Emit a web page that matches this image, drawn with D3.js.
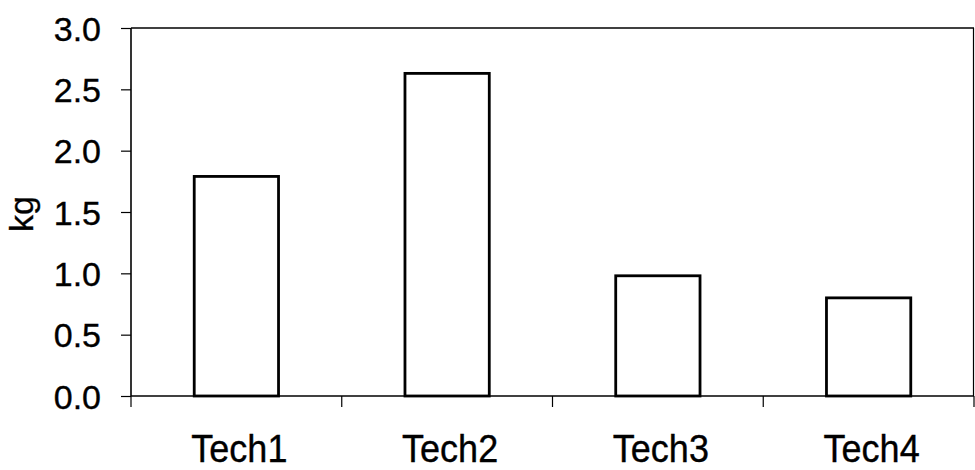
<!DOCTYPE html>
<html>
<head>
<meta charset="utf-8">
<script src="https://cdn.jsdelivr.net/npm/d3@7"></script>
<style>
  html, body { margin: 0; padding: 0; background: #fff; }
  svg { display: block; }
  text { font-family: "Liberation Sans", Arial, sans-serif; fill: #000; stroke: #000; stroke-width: 0.35px; }
</style>
</head>
<body>
<svg id="chart" width="975" height="470"></svg>
<script>
const categories = ["Tech1", "Tech2", "Tech3", "Tech4"];
const values = [1.79, 2.63, 0.98, 0.80];
const yTicks = [0, 0.5, 1.0, 1.5, 2.0, 2.5, 3.0];
const yLabel = "kg";

const W = 975, H = 470;
const m = { left: 131, right: 1, top: 28, bottom: 74 };
const svg = d3.select("#chart");

const x = d3.scaleBand()
  .domain(categories)
  .range([m.left, W - m.right])
  .paddingInner(0.6)
  .paddingOuter(0.3);

const y = d3.scaleLinear()
  .domain([0, 3])
  .range([H - m.bottom, m.top]);

// frame top/right
svg.append("line")
  .attr("x1", m.left).attr("x2", W - m.right)
  .attr("y1", y(3)).attr("y2", y(3))
  .attr("stroke", "#000").attr("stroke-width", 1.5);
svg.append("line")
  .attr("x1", W - m.right - 0.5).attr("x2", W - m.right - 0.5)
  .attr("y1", y(3)).attr("y2", y(0))
  .attr("stroke", "#000").attr("stroke-width", 1.2);

// bars
svg.append("g").selectAll("rect")
  .data(categories)
  .join("rect")
  .attr("x", d => x(d))
  .attr("y", (d, i) => y(values[i]))
  .attr("width", x.bandwidth())
  .attr("height", (d, i) => y(0) - y(values[i]))
  .attr("fill", "#fff")
  .attr("stroke", "#000")
  .attr("stroke-width", 2.8);

// y axis
const yAxis = d3.axisLeft(y)
  .tickValues(yTicks)
  .tickFormat(d3.format(".1f"))
  .tickSize(10)
  .tickPadding(20);
const gy = svg.append("g")
  .attr("transform", `translate(${m.left},0)`)
  .call(yAxis);
gy.select(".domain").attr("stroke-width", 1.6).attr("d", `M0,${y(3)}V${y(0)}`);
gy.selectAll(".tick line").attr("stroke-width", 1.2);
gy.selectAll(".tick text")
  .attr("font-size", 34)
  .attr("font-family", "'Liberation Sans', Arial, sans-serif")
  .attr("dy", "0.36em");

// x axis: ticks at band boundaries
const boundaries = categories.map(c => x(c) - x.step() * x.paddingOuter()).concat([W - m.right]);
const gx = svg.append("g");
gx.append("line")
  .attr("x1", m.left).attr("x2", W - m.right)
  .attr("y1", y(0)).attr("y2", y(0))
  .attr("stroke", "#000").attr("stroke-width", 1.6);
gx.selectAll("line.tk")
  .data(boundaries)
  .join("line")
  .attr("class", "tk")
  .attr("x1", d => d).attr("x2", d => d)
  .attr("y1", y(0)).attr("y2", y(0) + 11)
  .attr("stroke", "#000").attr("stroke-width", 1.2);
gx.selectAll("text")
  .data(categories)
  .join("text")
  .attr("transform", d => `translate(${x(d) + x.bandwidth() / 2 + 3},${y(0) + 66}) scale(1,1.1)`)
  .attr("text-anchor", "middle")
  .attr("font-size", 36)
  .text(d => d);

// y label
svg.append("text")
  .attr("transform", `translate(33,${(y(0) + y(3)) / 2 + 2}) rotate(-90)`)
  .attr("text-anchor", "middle")
  .attr("font-size", 34)
  .text(yLabel);
</script>
</body>
</html>
